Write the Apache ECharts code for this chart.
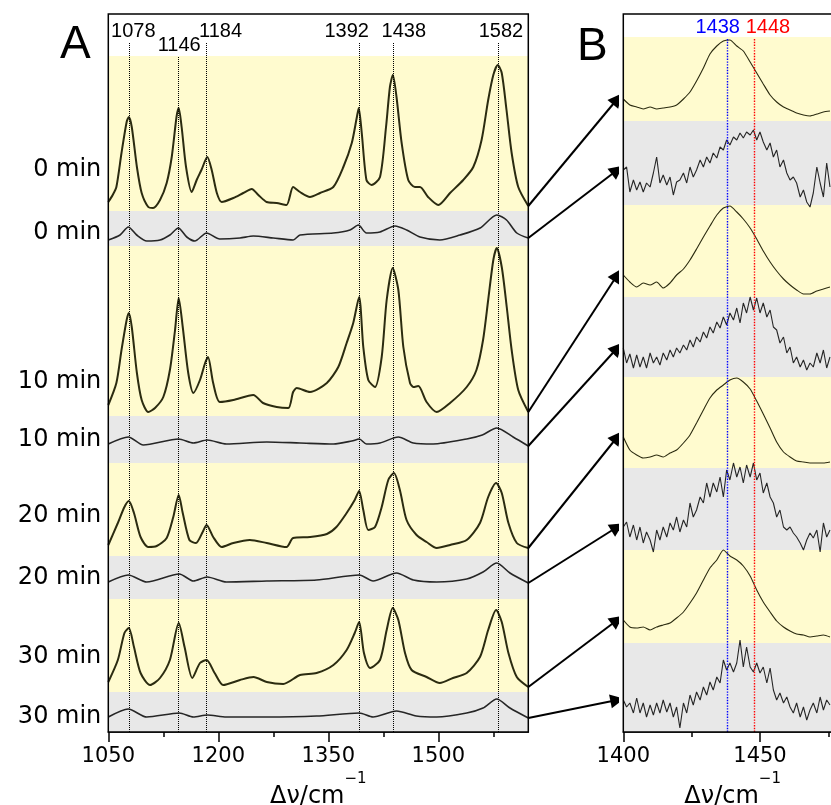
<!DOCTYPE html>
<html><head><meta charset="utf-8">
<script src="https://cdn.jsdelivr.net/npm/echarts@6/dist/echarts.min.js"></script>
<style>html,body{margin:0;padding:0;background:#fff}#c{width:831px;height:805px}</style>
</head><body><div id="c"></div>
<script>
// ---------- axis ticks & labels ----------
const xTicksA = [1050, 1200, 1350, 1500];
const xMinorA = [1125, 1275, 1425, 1575];
const xTicksB = [1400, 1450];
const xMinorB = [1425, 1475];
const timeLabels = ['0 min', '0 min', '10 min', '10 min', '20 min', '20 min', '30 min', '30 min'];
const timeLabelPos = [562, 499, 350, 292, 216, 154, 75, 15];

// ---------- shaded bands (intensity offset units) ----------
const bandsA = [[521, 676], [486, 521], [316, 486], [269, 316], [176, 269], [133, 176], [40, 133], [0, 40]];
const bandsB = [[611, 695], [527, 611], [435, 527], [355, 435], [264, 355], [182, 264], [89, 182], [0, 89]];
const bandKind = ['y', 'g', 'y', 'g', 'y', 'g', 'y', 'g'];

// ---------- peak markers ----------
const peaksA = [1078, 1146, 1184, 1392, 1438, 1582];
const peakTopA = [690, 676, 690, 690, 690, 690];
const peakLabelShiftA = [4.5, 0.5, 14, -12.4, 11, 2.5];
const peaksB = [1438, 1448];
const peakTopB = [694, 694];
const peakLabelShiftB = [-9.5, 13.4];

// ---------- panel A spectra [wavenumber, intensity+offset] ----------
const a0y = [[1050,530],[1056,537],[1061,545],[1068,579],[1075,610],[1078,615],[1082,605],[1089,565],[1095.5,539],[1104.5,525],[1111,524],[1120.5,532],[1129.6,549],[1136.5,575],[1143,615],[1146,624],[1150,605],[1156,565],[1163.7,540],[1170.5,552],[1177,562],[1185,575],[1191,562],[1198,539],[1204.6,530],[1220.5,534],[1234,539],[1245.6,543],[1254.6,537],[1266,530],[1279.6,529],[1293,527],[1302,545],[1311.4,540],[1325,535],[1338.7,539],[1356.8,545],[1370.5,565],[1382,589],[1388.7,614],[1391.5,624],[1395.6,599],[1402,552],[1409,547],[1420.5,555],[1428.7,605],[1434,645],[1438,657],[1443,635],[1450,589],[1459,552],[1468,545],[1475,545],[1486,535],[1500,527],[1516,539],[1534,552],[1547.7,565],[1559,592],[1568,632],[1575,657],[1581,667],[1586.5,659],[1593,622],[1600,579],[1609,545],[1622.7,526]];
const a0g = [[1050,492],[1066,497],[1077.3,505],[1088.7,497],[1102.4,491],[1120.5,492],[1134,497],[1145.5,504],[1157,495],[1168,491],[1184,499],[1202,493],[1229.6,494],[1247.7,496],[1275,494],[1302,492],[1311.4,497],[1356.8,499],[1379.5,502],[1391,507],[1402,499],[1420.5,500],[1441,506],[1456.8,502],[1475,495],[1502,492],[1529.6,497],[1557,504],[1579.7,517],[1593,512],[1607,499],[1622.7,494]];
const a10y = [[1050,327],[1061,349],[1068,382],[1075,412],[1078,419],[1082,405],[1089,359],[1095.5,332],[1104.5,320],[1113.7,324],[1125,335],[1134,362],[1141,402],[1146,434],[1151.5,405],[1159,359],[1166,339],[1175,352],[1182,369],[1186,375],[1193,349],[1202,330],[1220.5,332],[1247.7,337],[1261,329],[1279.6,325],[1295.5,324],[1302,340],[1307,344],[1325,340],[1348,349],[1363.6,365],[1375,389],[1384,409],[1392,435],[1397.7,385],[1404.5,352],[1413.7,345],[1422.8,375],[1429.6,432],[1437.8,464],[1445.5,442],[1452.3,385],[1461.4,349],[1466,345],[1472.7,346],[1484,330],[1497.8,320],[1516,329],[1538.7,345],[1552,362],[1561,392],[1568,432],[1575,472],[1579.7,484],[1586.5,465],[1593.3,425],[1600,382],[1609,342],[1622.7,320]];
const a10g = [[1050,288],[1077.3,295],[1097.7,287],[1145.9,293],[1166,289],[1185,292],[1211,288],[1266,290],[1311.4,289],[1357,288],[1382,291],[1392.3,293],[1402,288],[1420.5,289],[1445.5,295],[1466,289],[1493,288],[1538.7,293],[1560,297],[1579.7,304],[1602,295],[1622.7,286]];
const a20y = [[1050,187],[1063,209],[1072,225],[1078,231],[1085,219],[1094,195],[1104.5,185],[1116,186],[1129.6,194],[1138.6,215],[1146,237],[1151.5,219],[1160.6,192],[1169.6,189],[1178.7,200],[1184,207],[1193,195],[1204.6,185],[1220.5,189],[1243,192],[1266,189],[1293,185],[1302,194],[1325,195],[1348,198],[1361,205],[1375,219],[1386,232],[1392,241],[1397.7,222],[1404.5,202],[1413.7,205],[1422.8,225],[1431.8,252],[1439.5,259],[1447.6,242],[1456.7,212],[1470.3,197],[1484,190],[1497.8,184],[1516,187],[1538.7,192],[1556.8,209],[1568,235],[1578.8,249],[1586.5,239],[1595.6,209],[1607,189],[1622.7,184]];
const a20g = [[1050,150],[1077.3,157],[1102.4,150],[1146.8,158],[1166,151],[1185,155],[1211,150],[1266,151],[1334,152],[1392.3,157],[1411,151],[1443,159],[1466,152],[1497.8,150],[1538.7,153],[1561,160],[1579.7,169],[1597.7,159],[1622.7,149]];
const a30y = [[1050,50],[1063,72],[1072,99],[1078,104],[1085,85],[1094,59],[1107,47],[1120.5,54],[1134,72],[1146,109],[1154,85],[1164.5,54],[1175,69],[1184,72],[1195,59],[1206.6,47],[1229.6,52],[1248,55],[1266,50],[1288.6,48],[1311.4,57],[1334,59],[1357,67],[1375,82],[1386,99],[1392,110],[1398.6,79],[1407,64],[1420.5,72],[1429.6,102],[1437.8,124],[1445.5,112],[1454.6,79],[1463.6,62],[1484,55],[1502,49],[1520,54],[1538.7,59],[1556.8,75],[1568,102],[1578.8,122],[1586.5,110],[1595.6,79],[1607,55],[1622.7,45]];
const a30g = [[1050,15],[1077.3,23],[1102.4,15],[1146.8,19],[1166,15],[1185,17],[1211,15],[1266,15],[1334,16],[1392.3,19],[1411,15],[1443,21],[1470,16],[1497.8,15],[1538.7,19],[1561,24],[1579.7,33],[1597.7,24],[1622.7,14]];

// ---------- panel B spectra ----------
const xB = [1400,1401.2,1402.4,1403.7,1404.9,1406.1,1407.3,1408.5,1409.8,1411,1412.2,1413.4,1414.6,1415.9,1417.1,1418.3,1419.5,1420.7,1422,1423.2,1424.4,1425.6,1426.8,1428.1,1429.3,1430.5,1431.7,1432.9,1434.2,1435.4,1436.6,1437.8,1439,1440.3,1441.5,1442.7,1443.9,1445.1,1446.4,1447.6,1448.8,1450,1451.2,1452.5,1453.7,1454.9,1456.1,1457.3,1458.6,1459.8,1461,1462.2,1463.4,1464.7,1465.9,1467.1,1468.3,1469.5,1470.8,1472,1473.2,1474.4,1475.6];
const xBy = [1400,1402.4,1404.9,1407.3,1409.8,1412.2,1414.6,1417.1,1419.5,1422,1424.4,1426.8,1429.3,1431.7,1434.2,1436.6,1439,1441.5,1443.9,1446.4,1448.8,1451.2,1453.7,1456.1,1458.6,1461,1463.4,1465.9,1468.3,1470.8,1473.2,1475.6];
const b0y = [633,627,625,623,625,623,624,625,627,633,640,651,664,678,686,691,692,686,681,670,659,648,637,630,625,622,619,617,616,618,620,621];
const b0g = [562,565,540,552,542,550,540,549,545,559,575,549,557,547,555,537,550,552,559,549,565,555,562,572,565,575,569,579,574,585,582,592,587,595,592,599,594,600,597,602,592,600,590,582,589,575,582,565,572,559,552,555,549,535,542,530,525,539,565,549,535,569,545];
const b10y = [457,450,445,449,447,450,444,449,457,463,472,483,495,506,517,524,526,520,513,504,493,481,470,461,453,447,442,438,438,441,443,445];
const b10g = [384,369,378,364,377,365,375,364,379,369,375,367,379,372,382,375,384,379,387,382,392,385,395,390,400,394,405,399,410,404,415,407,419,412,424,409,429,419,435,422,434,419,429,415,422,405,402,389,395,379,385,369,375,365,372,362,369,365,379,369,382,364,375];
const b20y = [295,282,277,274,275,277,275,279,282,289,297,309,322,334,342,347,352,354,350,343,331,318,304,290,280,275,271,270,269,269,269,270];
const b20g = [205,210,195,207,192,205,189,200,192,180,202,192,205,195,209,202,215,200,212,205,229,215,222,235,229,249,235,249,240,255,235,262,252,269,255,265,249,267,255,269,252,259,239,249,235,229,215,222,205,202,205,199,195,189,182,192,199,194,202,180,209,195,202];
const b30y = [112,105,104,105,102,105,107,109,114,120,129,139,152,164,172,182,176,172,166,156,142,130,120,111,105,101,98,97,95,96,97,95];
const b30g = [32,25,29,19,34,19,29,15,27,17,29,19,32,20,29,15,25,4,29,19,37,27,40,32,45,37,50,42,55,49,72,62,69,60,69,92,65,85,65,60,69,59,65,49,64,42,32,39,29,35,25,19,29,15,25,12,22,29,19,35,22,32,27];

// ---------- build ----------
const YEL = '#fffbcf', GRY = '#e8e8e8';
const colY = '#2b2b10', colG = '#262626';
const specA = [a0y, a0g, a10y, a10g, a20y, a20g, a30y, a30g];
const pair = (xs, ys) => xs.map((x, i) => [x, ys[i]]);
const specB = [pair(xBy, b0y), pair(xB, b0g), pair(xBy, b10y), pair(xB, b10g), pair(xBy, b20y), pair(xB, b20g), pair(xBy, b30y), pair(xB, b30g)];

const shiftPad = d => d >= 0 ? [0, 0, 0, 2 * d] : [0, -2 * d, 0, 0];

const series = [];
series.push({
  type: 'line', xAxisIndex: 0, yAxisIndex: 0, data: [], z: 1, silent: true,
  markArea: { silent: true, data: bandsA.map((b, i) => [{ yAxis: b[0], itemStyle: { color: bandKind[i] === 'y' ? YEL : GRY, opacity: 1 } }, { yAxis: b[1] }]) }
});
series.push({
  type: 'line', xAxisIndex: 2, yAxisIndex: 1, data: [], z: 1, silent: true,
  markArea: { silent: true, data: bandsB.map((b, i) => [{ yAxis: b[0], itemStyle: { color: bandKind[i] === 'y' ? YEL : GRY, opacity: 1 } }, { yAxis: b[1] }]) }
});
series.push({
  type: 'line', xAxisIndex: 0, yAxisIndex: 0, data: [], z: 3, silent: true,
  markLine: {
    silent: true, symbol: ['none', 'none'], animation: false,
    lineStyle: { type: 'dotted', color: '#000', width: 1 },
    label: { position: 'end', distance: 1, fontSize: 20, fontFamily: 'Liberation Sans', color: '#000' },
    data: peaksA.map((p, i) => [{ coord: [p, 0] }, { coord: [p, peakTopA[i]], label: { formatter: String(p), padding: shiftPad(peakLabelShiftA[i]) } }])
  }
});
const peakColB = ['#0000ff', '#ff0000'];
peaksB.forEach((p, i) => series.push({
  type: 'line', xAxisIndex: 2, yAxisIndex: 1, data: [], z: 3, silent: true,
  itemStyle: { color: peakColB[i] },
  markLine: {
    silent: true, symbol: ['none', 'none'], animation: false,
    lineStyle: { type: 'dotted', width: 1.4, color: peakColB[i], opacity: 1 },
    label: { position: 'end', distance: 1, fontSize: 20, fontFamily: 'Liberation Sans', color: peakColB[i], padding: shiftPad(peakLabelShiftB[i]) },
    data: [[{ coord: [p, 0] }, { coord: [p, peakTopB[i]], label: { formatter: String(p) } }]]
  }
}));
specA.forEach((d, i) => series.push({
  type: 'line', xAxisIndex: 0, yAxisIndex: 0, data: d, symbol: 'none', z: 4, silent: true,
  smooth: 0.25,
  lineStyle: { color: i % 2 === 0 ? colY : colG, width: i % 2 === 0 ? 2 : 1.6 }
}));
specB.forEach((d, i) => series.push({
  type: 'line', xAxisIndex: 2, yAxisIndex: 1, data: d, symbol: 'none', z: 4, silent: true,
  smooth: i % 2 === 0 ? 0.2 : false,
  lineStyle: { color: i % 2 === 0 ? colY : colG, width: 1.1 }
}));
series.push({
  type: 'lines', coordinateSystem: 'cartesian2d', xAxisIndex: 4, yAxisIndex: 2, z: 5, silent: true,
  symbol: ['none', 'triangle'], symbolSize: 14,
  lineStyle: { color: '#000', width: 2, opacity: 1, curveness: 0 },
  itemStyle: { color: '#000' },
  data: specA.map((s, i) => ({ coords: [[0, s[s.length - 1][1]], [1, specB[i][0][1]]] }))
});

const tickFont = { fontSize: 21, fontFamily: 'DejaVu Sans', color: '#000', formatter: v => String(v) };
const axisName = '{a|Δν/cm}{b|−1}';
const nameStyle = {
  rich: {
    a: { fontSize: 24, fontFamily: 'DejaVu Sans', color: '#000', lineHeight: 50 },
    b: { fontSize: 15, fontFamily: 'DejaVu Sans', color: '#000', lineHeight: 15, verticalAlign: 'top' }
  }
};
const mainX = (gi, min, max, ticks) => ({
  type: 'value', gridIndex: gi, min, max, position: 'bottom',
  axisLine: { show: true, onZero: false, lineStyle: { color: '#000', width: 1.5 } },
  axisTick: { show: true, customValues: ticks, length: 10, inside: false, lineStyle: { color: '#000', width: 1.5 } },
  axisLabel: { show: true, customValues: ticks, margin: 14, ...tickFont },
  splitLine: { show: false },
  name: axisName, nameLocation: 'middle', nameGap: 40, nameTextStyle: nameStyle, nameMoveOverlap: false
});
const minorX = (gi, min, max, ticks) => ({
  type: 'value', gridIndex: gi, min, max, position: 'bottom',
  axisLine: { show: false }, axisLabel: { show: false }, splitLine: { show: false },
  axisTick: { show: true, customValues: ticks, length: 5, inside: false, lineStyle: { color: '#000', width: 1.5 } }
});

const option = {
  animation: false,
  backgroundColor: '#fff',
  grid: [
    { left: 108.3, top: 14, width: 420, height: 718, show: true, borderColor: '#000', borderWidth: 1.5, backgroundColor: 'transparent', z: 10, outerBoundsMode: 'none' },
    { left: 623.3, top: 14, width: 218.7, height: 718, show: true, borderColor: '#000', borderWidth: 1.5, backgroundColor: 'transparent', z: 10, outerBoundsMode: 'none' },
    { left: 528.3, top: 14, width: 89, height: 718, outerBoundsMode: 'none' }
  ],
  xAxis: [
    mainX(0, 1050, 1622.7, xTicksA),
    minorX(0, 1050, 1622.7, xMinorA),
    mainX(1, 1400, 1480, xTicksB),
    minorX(1, 1400, 1480, xMinorB),
    { type: 'value', gridIndex: 2, min: 0, max: 1, show: false }
  ],
  yAxis: [
    {
      type: 'value', gridIndex: 0, min: 0, max: 718,
      axisLine: { show: false }, axisTick: { show: false }, splitLine: { show: false },
      axisLabel: { show: true, customValues: timeLabelPos, margin: 7, fontSize: 24, fontFamily: 'DejaVu Sans', color: '#000',
        formatter: v => timeLabels[timeLabelPos.indexOf(v)] }
    },
    { type: 'value', gridIndex: 1, min: 0, max: 718, show: false },
    { type: 'value', gridIndex: 2, min: 0, max: 718, show: false }
  ],
  graphic: [
    { type: 'text', z: 20, style: { x: 60, y: 45, text: 'A', fontSize: 46, fontFamily: 'Liberation Sans', fill: '#000', textVerticalAlign: 'middle' } },
    { type: 'text', z: 20, style: { x: 577, y: 47, text: 'B', fontSize: 46, fontFamily: 'Liberation Sans', fill: '#000', textVerticalAlign: 'middle' } }
  ],
  series
};
const chart = echarts.init(document.getElementById('c'), null, { renderer: 'canvas' });
chart.setOption(option);
</script></body></html>
